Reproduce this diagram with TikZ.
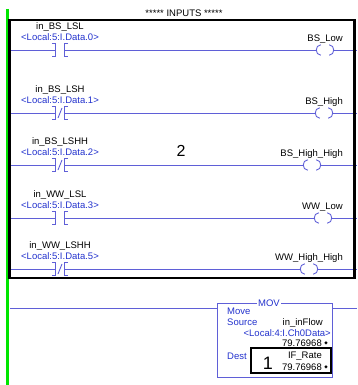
\documentclass[tikz,border=0pt]{standalone}
\usepackage{fontspec}
\setmainfont{Liberation Sans}
\newfontfamily\symfont{DejaVu Sans}
\definecolor{rungc}{RGB}{95,95,215}
\definecolor{addrc}{RGB}{35,50,205}
\definecolor{railc}{RGB}{0,230,0}
\tikzset{
  rung/.style={draw=rungc, line width=0.9pt},
  txt/.style={inner sep=0pt, anchor=base, yshift=-3.4pt, font=\fontsize{9.5}{11}\selectfont},
  addrtxt/.style={txt, text=addrc},
  contactbox/.style={inner sep=0pt, minimum width=8pt, minimum height=12pt},
  coilbox/.style={inner sep=0pt, minimum width=17pt, minimum height=10pt},
  hilite/.style={draw=black, line width=2.5pt, inner sep=0pt},
}
\begin{document}
\begin{tikzpicture}[x=1pt,y=-1pt]
\useasboundingbox (0,0) rectangle (357,385);
% power rail
\coordinate (railtop) at (7.5,9);
\coordinate (railbot) at (7.5,385);
\draw[railc, line width=3pt] (railtop) -- (railbot);
% header
\node[txt] (hdr) at (184,13) {***** INPUTS *****};
% rungs
\foreach \i/\ly/\tag/\addr/\nc/\out/\cx in {
  1/50/in\_BS\_LSL/0/0/BS\_Low/325,
  2/113/in\_BS\_LSH/1/1/BS\_High/324,
  3/165/in\_BS\_LSHH/2/1/BS\_High\_High/312,
  4/218/in\_WW\_LSL/3/0/WW\_Low/323,
  5/269/in\_WW\_LSHH/5/1/WW\_High\_High/309}{
  \node[txt] (n\i) at (60,\ly-24.3) {\tag};
  \node[addrtxt] (a\i) at (60,\ly-12.5) {<Local:5:I.Data.\addr>};
  \node[contactbox] (c\i) at (60,\ly) {};
  \draw[rung] (c\i.north west) ++(-4,0) -- (c\i.north west) -- (c\i.south west) -- ++(-4,0);
  \draw[rung] (c\i.north east) ++(4,0) -- (c\i.north east) -- (c\i.south east) -- ++(4,0);
  \ifnum\nc=1
    \draw[rung] ([xshift=-2pt,yshift=-5pt]c\i.center) -- ([xshift=2pt,yshift=5pt]c\i.center);
  \fi
  \node[coilbox] (k\i) at (\cx,\ly) {};
  \draw[rung] ([xshift=4.5pt]k\i.north west) .. controls ([xshift=-1.5pt]k\i.north west) and ([xshift=-1.5pt]k\i.south west) .. ([xshift=4.5pt]k\i.south west);
  \draw[rung] ([xshift=-4.5pt]k\i.north east) .. controls ([xshift=1.5pt]k\i.north east) and ([xshift=1.5pt]k\i.south east) .. ([xshift=-4.5pt]k\i.south east);
  \node[txt, anchor=base east] (o\i) at (343,\ly-12) {\out};
  \coordinate (s\i) at (10,\ly);
  \coordinate (e\i) at (357,\ly);
  \draw[rung] (s\i) -- (c\i.west);
  \draw[rung] (c\i.east) -- (k\i.west);
  \draw[rung] (k\i.east) -- (e\i);
}
% highlight box 2
\node[hilite, minimum width=345pt, minimum height=258pt] (box2) at (182,149) {};
\node[txt, font=\fontsize{16}{18}\selectfont, yshift=-2.4pt] (lbl2) at (181,151) {2};
% MOV rung
\node[draw=rungc, line width=0.9pt, inner sep=0pt, minimum width=115pt, minimum height=74pt] (mov) at (274.5,340) {};
\node[text=addrc, fill=white, inner sep=0pt, inner xsep=1pt, font=\fontsize{9.5}{11}\selectfont] (movt) at (269,303) {MOV};
\coordinate (s6) at (10,308);
\coordinate (e6) at (357,308);
\draw[rung] (s6) -- (s6 -| mov.west);
\draw[rung] (mov.east |- e6) -- (e6);
\node[addrtxt, anchor=base west] (mv) at (227,311) {Move};
\node[addrtxt, anchor=base west] (src) at (227,322) {Source};
\node[txt, anchor=base east] (srctag) at (323,322) {in\_inFlow};
\node[addrtxt, anchor=base east] (srcaddr) at (331,333) {<Local:4:I.Ch0Data>};
\node[txt, anchor=base east] (srcval) at (322,343) {79.76968};
\node[inner sep=0pt, font=\symfont\fontsize{4.5}{5}\selectfont] (srcdia) at (326,343) {◆};
\node[addrtxt, anchor=base west] (dst) at (227,356) {Dest};
\node[txt, anchor=base east] (dsttag) at (322,355) {IF\_Rate};
\node[txt, anchor=base east] (dstval) at (322,367) {79.76968};
\node[inner sep=0pt, font=\symfont\fontsize{4.5}{5}\selectfont] (dstdia) at (326,367) {◆};
% highlight box 1
\node[hilite, minimum width=80pt, minimum height=25pt] (box1) at (291,360.5) {};
\node[txt, font=\fontsize{18}{20}\selectfont, yshift=-3pt] (lbl1) at (268,363.5) {1};
\end{tikzpicture}
\end{document}
